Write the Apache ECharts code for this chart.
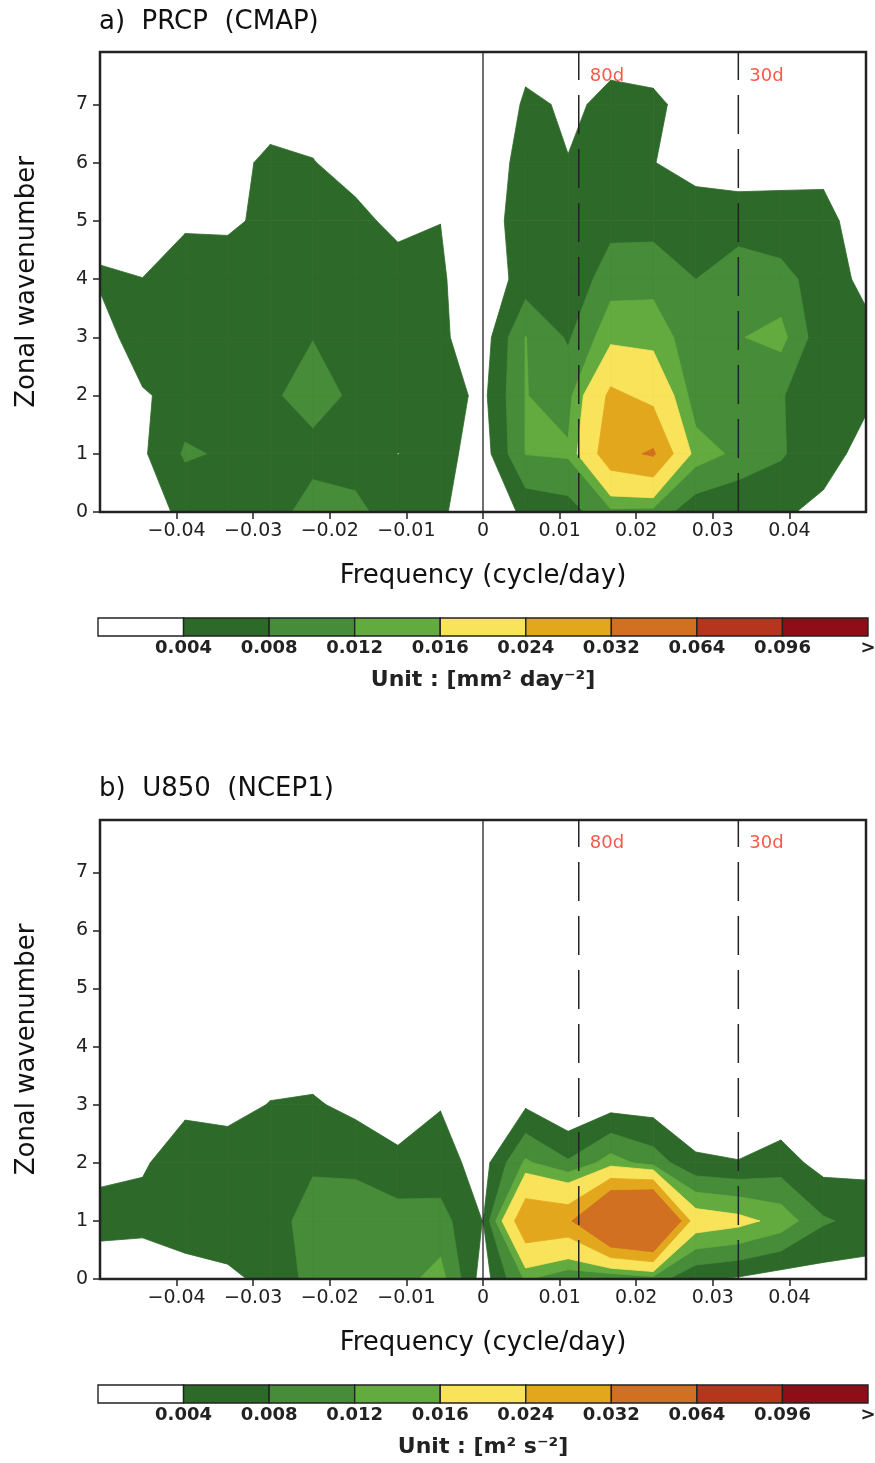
<!DOCTYPE html>
<html><head><meta charset="utf-8">
<script src="https://cdn.jsdelivr.net/npm/echarts@6/dist/echarts.min.js"></script>
<style>html,body{margin:0;padding:0;background:#fff}#chart{width:875px;height:1463px}</style>
</head><body><div id="chart"></div>
<script>
// ---------------- data ----------------
const frequency = [-0.05,-0.044444,-0.038889,-0.033333,-0.027778,-0.022222,-0.016667,-0.011111,-0.005556,0,
                   0.005556,0.011111,0.016667,0.022222,0.027778,0.033333,0.038889,0.044444,0.05];
const wavenumber = [0,1,2,3,4,5,6,7,8];

// power spectrum, one row per wavenumber, one column per frequency
const prcpPower = [
  [0.001,0.002,0.005,0.006,0.0064,0.0095,0.0088,0.0064,0.0049,0,0.0051,0.00625,0.011,0.0105,0.0053,0.0042,0.00425,0.00357,0.001],
  [0.0015,0.0034,0.0085,0.0075,0.006,0.0068,0.0066,0.00395,0.0054,0.0021,0.0121,0.0125,0.0291,0.033,0.0139,0.0111,0.0085,0.0047,0.0034],
  [0.001,0.0034,0.006,0.0065,0.0074,0.0095,0.0073,0.006,0.0057,0.0031,0.0121,0.0106,0.02566,0.0219,0.0098,0.0105,0.0081,0.007,0.0043],
  [0.0012,0.0075,0.0065,0.0065,0.007,0.0079,0.0065,0.006,0.0046,0.002,0.0121,0.0075,0.0146,0.0142,0.0096,0.01175,0.0133,0.005,0.005],
  [0.0048,0.00405,0.0058,0.0073,0.0068,0.0065,0.006,0.0052,0.0045,0.0012,0.0058,0.0046,0.0104,0.0108,0.00798,0.0095,0.0095,0.00575,0.0031],
  [0.0015,0.002,0.0035,0.0029,0.0055,0.006,0.0047,0.0033,0.00397,0.003,0.005,0.0055,0.0065,0.0064,0.006,0.0068,0.0052,0.005,0.0023],
  [0.001,0.001,0.0015,0.0024,0.005,0.0041,0.003,0.002,0.002,0.0023,0.005,0.00407,0.006,0.0041,0.0026,0.0012,0.0029,0.00315,0.001],
  [0.0005,0.0005,0.001,0.001,0.0018,0.00285,0.0015,0.001,0.001,0,0.0046,0.0036,0.0045,0.005,0.002,0.001,0.001,0.001,0.0005],
  [0,0,0,0,0,0,0,0,0,0,0.0026,0.0015,0.0033,0.0014,0,0,0,0,0]
];
const u850Power = [
  [0.0012,0,0.002,0.0028,0.0055,0.0092,0.01,0.0105,0.0135,0.0021,0.0125,0.0085,0.0078,0.010,0.0045,0.0035,0.002,0.0022,0.0023],
  [0.0055,0.00565,0.0065,0.0075,0.0054,0.0105,0.01,0.0095,0.0095,0.0039,0.031,0.030,0.0518,0.057,0.019,0.0175,0.0145,0.0085,0.0066],
  [0.0029,0.00345,0.0065,0.007,0.006,0.0072,0.0072,0.0055,0.00566,0.00234,0.0127,0.0085,0.0138,0.0102,0.0048,0.0042,0.0058,0.0025,0.0029],
  [0.001,0.002,0.0031,0.0022,0.0042,0.0045,0.0029,0.0005,0.0038,0,0.0034,0.0002,0.0024,0.0022,0.0005,0.0005,0.0012,0.0005,0.0005],
  [0,0,0,0,0.0013,0.0017,0,0,0,0,0,0,0,0,0,0,0,0,0],
  [0,0,0,0,0,0,0,0,0,0,0,0,0,0,0,0,0,0,0],
  [0,0,0,0,0,0,0,0,0,0,0,0,0,0,0,0,0,0,0],
  [0,0,0,0,0,0,0,0,0,0,0,0,0,0,0,0,0,0,0],
  [0,0,0,0,0,0,0,0,0,0,0,0,0,0,0,0,0,0,0]
];

const contourLevels = [0.004,0.008,0.012,0.016,0.024,0.032,0.064,0.096];
const colorbarLabels = ['', '0.004','0.008','0.012','0.016','0.024','0.032','0.064','0.096','>'];
const periodDays = [80, 30];
const xTickValues = [-0.04,-0.03,-0.02,-0.01,0,0.01,0.02,0.03,0.04];
const xTickLabels = ['\u22120.04','\u22120.03','\u22120.02','\u22120.01','0','0.01','0.02','0.03','0.04'];
const yTickValues = [0,1,2,3,4,5,6,7];
const panelTitles = ['a)  PRCP  (CMAP)', 'b)  U850  (NCEP1)'];
const unitTexts = ['Unit : [mm\u00B2 day\u207B\u00B2]', 'Unit : [m\u00B2 s\u207B\u00B2]'];

// ---------------- styles ----------------
const levelColors = ['#2d6a2a','#478c38','#63ab3f','#f9e35a','#e3a71e','#d07020','#b5361c','#8e0d16'];
const colorbarColors = ['#ffffff'].concat(levelColors);
const Y_MAX = 7.9;
const FONT = 'DejaVu Sans';
const INK = '#222';

// ---------------- contour helpers ----------------
function regionAbove(c, L) {
  const out = [];
  for (let i = 0; i < 4; i++) {
    const a = c[i], b = c[(i + 1) % 4];
    const ia = a[2] >= L, ib = b[2] >= L;
    if (ia) out.push([a[0], a[1]]);
    if (ia !== ib) {
      const t = (L - a[2]) / (b[2] - a[2]);
      out.push([a[0] + t * (b[0] - a[0]), a[1] + t * (b[1] - a[1])]);
    }
  }
  return out.length >= 3 ? out : null;
}
function clipBelow(poly, ymax) {
  const out = [];
  for (let i = 0; i < poly.length; i++) {
    const a = poly[i], b = poly[(i + 1) % poly.length];
    const ia = a[1] <= ymax, ib = b[1] <= ymax;
    if (ia) out.push(a);
    if (ia !== ib) {
      const t = (ymax - a[1]) / (b[1] - a[1]);
      out.push([a[0] + t * (b[0] - a[0]), ymax]);
    }
  }
  return out;
}
const cells = [];
for (let j = 0; j < wavenumber.length - 1; j++) {
  for (let i = 0; i < frequency.length - 1; i++) {
    cells.push([(frequency[i] + frequency[i + 1]) / 2, (wavenumber[j] + wavenumber[j + 1]) / 2, i, j]);
  }
}
function contourRenderer(power, l) {
  const L = contourLevels[l];
  return function (params, api) {
    const i = api.value(2), j = api.value(3);
    const corners = [
      [frequency[i], wavenumber[j], power[j][i]],
      [frequency[i + 1], wavenumber[j], power[j][i + 1]],
      [frequency[i + 1], wavenumber[j + 1], power[j + 1][i + 1]],
      [frequency[i], wavenumber[j + 1], power[j + 1][i]]
    ];
    let poly = regionAbove(corners, L);
    if (!poly) return null;
    poly = clipBelow(poly, Y_MAX);
    if (poly.length < 3) return null;
    return {
      type: 'polygon',
      shape: { points: poly.map(function (p) { return api.coord(p); }) },
      style: { fill: levelColors[l], stroke: levelColors[l], lineWidth: 0.8, lineJoin: 'round' },
      silent: true
    };
  };
}
function colorbarRenderer(params, api) {
  const i = api.value(0);
  const p0 = api.coord([i, 1]);
  const p1 = api.coord([i + 1, 0]);
  return {
    type: 'rect',
    shape: { x: p0[0], y: p0[1], width: p1[0] - p0[0], height: p1[1] - p0[1] },
    style: { fill: colorbarColors[i], stroke: INK, lineWidth: 1.4 }
  };
}

// ---------------- layout ----------------
const plotGrids = [
  { left: 100, top: 52, width: 766, height: 460 },
  { left: 100, top: 820, width: 766, height: 459 }
];
const barGrids = [
  { left: 98, top: 618, width: 770, height: 18 },
  { left: 98, top: 1385, width: 770, height: 18 }
];
const titleTops = [9, 776];

const grid = [], xAxis = [], yAxis = [], series = [], title = [];
plotGrids.forEach(function (g, p) {
  grid.push(Object.assign({ show: true, borderColor: INK, borderWidth: 2.5, backgroundColor: 'transparent', z: 10, outerBoundsMode: 'none' }, g));
  title.push({ text: panelTitles[p], left: 99, top: titleTops[p], padding: 0,
    textStyle: { fontFamily: FONT, fontSize: 26, fontWeight: 'normal', color: '#111' } });
  xAxis.push({
    gridIndex: p, type: 'value', min: -0.05, max: 0.05, interval: 0.01,
    axisLine: { show: false, onZero: false },
    axisTick: { show: true, inside: false, length: 7, customValues: xTickValues, lineStyle: { color: INK, width: 1.5 } },
    splitLine: { show: false },
    axisLabel: { customValues: xTickValues, margin: 10, fontFamily: FONT, fontSize: 19, color: INK,
      formatter: function (v) { const k = xTickValues.findIndex(function (t) { return Math.abs(t - v) < 1e-6; }); return k < 0 ? '' : xTickLabels[k]; } },
    name: 'Frequency (cycle/day)', nameLocation: 'middle', nameGap: 51,
    nameTextStyle: { fontFamily: FONT, fontSize: 26, color: '#111' }
  });
  yAxis.push({
    gridIndex: p, type: 'value', min: 0, max: Y_MAX, interval: 1,
    axisLine: { show: false, onZero: false },
    axisTick: { show: true, inside: false, length: 7, customValues: yTickValues, lineStyle: { color: INK, width: 1.5 } },
    splitLine: { show: false },
    axisLabel: { customValues: yTickValues, margin: 12, fontFamily: FONT, fontSize: 19, color: INK,
      formatter: function (v) { return String(Math.round(v)); } },
    name: 'Zonal wavenumber', nameLocation: 'middle', nameGap: 60, nameRotate: 90,
    nameTextStyle: { fontFamily: FONT, fontSize: 26, color: '#111' }
  });
  const power = p === 0 ? prcpPower : u850Power;
  contourLevels.forEach(function (L, l) {
    series.push({
      type: 'custom', xAxisIndex: p, yAxisIndex: p, coordinateSystem: 'cartesian2d',
      data: cells, encode: { x: 0, y: 1 }, renderItem: contourRenderer(power, l), z: 2, silent: true
    });
  });
  series.push({
    type: 'line', xAxisIndex: p, yAxisIndex: p, data: [[0, 0], [0, Y_MAX]], symbol: 'none',
    lineStyle: { color: INK, width: 1.3 }, z: 3, silent: true
  });
  periodDays.forEach(function (d) {
    series.push({
      type: 'line', xAxisIndex: p, yAxisIndex: p, data: [[1 / d, 0], [1 / d, Y_MAX]], symbol: 'none',
      lineStyle: { color: INK, width: 1.5, type: [39, 15] }, z: 3, silent: true
    });
  });
  series.push({
    type: 'scatter', xAxisIndex: p, yAxisIndex: p, symbolSize: 0, z: 4, silent: true,
    data: periodDays.map(function (d) { return [1 / d, 7.49, d]; }),
    label: { show: true, position: 'right', distance: 11, fontFamily: FONT, fontSize: 18, color: '#f2301a',
      formatter: function (o) { return o.value[2] + 'd'; } }
  });
});
barGrids.forEach(function (g, p) {
  const gi = 2 + p;
  grid.push(Object.assign({ show: false, outerBoundsMode: 'none' }, g));
  xAxis.push({
    gridIndex: gi, type: 'value', min: 0, max: 9, interval: 1,
    axisLine: { show: false, onZero: false }, axisTick: { show: false }, splitLine: { show: false },
    axisLabel: { margin: 3, fontFamily: FONT, fontWeight: 'bold', fontSize: 18, color: INK,
      showMinLabel: true, showMaxLabel: true, hideOverlap: false,
      formatter: function (v) { const k = Math.round(v); return colorbarLabels[k] || ''; } },
    name: unitTexts[p], nameLocation: 'middle', nameGap: 33,
    nameTextStyle: { fontFamily: FONT, fontWeight: 'bold', fontSize: 22, color: INK }
  });
  yAxis.push({ gridIndex: gi, type: 'value', min: 0, max: 1, show: false });
  series.push({
    type: 'custom', xAxisIndex: gi, yAxisIndex: gi, coordinateSystem: 'cartesian2d',
    data: colorbarColors.map(function (c, i) { return [i, 0.5]; }), encode: { x: 0, y: 1 },
    renderItem: colorbarRenderer, silent: true
  });
});

const chart = echarts.init(document.getElementById('chart'), null, { renderer: 'canvas' });
chart.setOption({ animation: false, backgroundColor: '#fff', title: title, grid: grid, xAxis: xAxis, yAxis: yAxis, series: series });
</script></body></html>
